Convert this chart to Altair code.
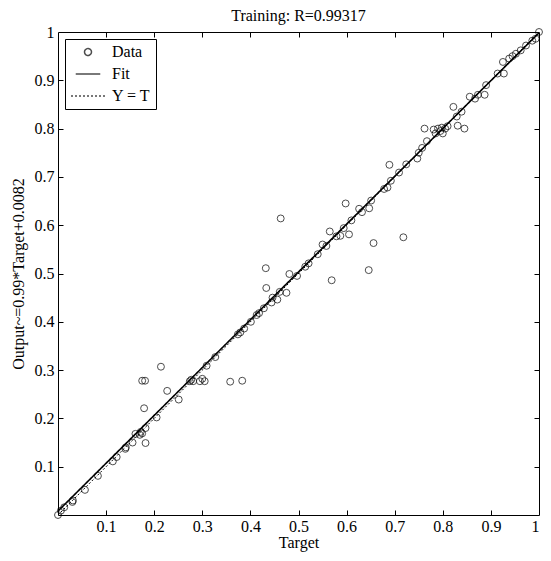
import altair as alt
import pandas as pd

target = [0.000, 0.006, 0.013, 0.030, 0.031, 0.056, 0.083, 0.114, 0.122, 0.140,
          0.141, 0.155, 0.161, 0.170, 0.175, 0.172, 0.182, 0.182, 0.179, 0.175,
          0.181, 0.205, 0.214, 0.227, 0.251, 0.274, 0.281, 0.277, 0.295, 0.300,
          0.305, 0.309, 0.327, 0.358, 0.383, 0.374, 0.379, 0.387, 0.401, 0.413,
          0.418, 0.428, 0.444, 0.432, 0.433, 0.463, 0.446, 0.456, 0.461, 0.475,
          0.481, 0.497, 0.514, 0.521, 0.540, 0.550, 0.558, 0.565, 0.569, 0.579,
          0.587, 0.594, 0.605, 0.598, 0.610, 0.626, 0.632, 0.647, 0.651, 0.646,
          0.656, 0.718, 0.678, 0.685, 0.689, 0.692, 0.709, 0.724, 0.747, 0.750,
          0.757, 0.767, 0.762, 0.785, 0.790, 0.795, 0.800, 0.805, 0.810, 0.781,
          0.798, 0.831, 0.845, 0.822, 0.829, 0.839, 0.856, 0.867, 0.873, 0.887,
          0.890, 0.914, 0.927, 0.925, 0.938, 0.945, 0.952, 0.962, 0.973, 0.986,
          0.993, 1.000]
output = [0.000, 0.009, 0.016, 0.027, 0.030, 0.052, 0.081, 0.111, 0.120, 0.137,
          0.140, 0.150, 0.168, 0.166, 0.169, 0.172, 0.180, 0.149, 0.221, 0.278,
          0.278, 0.202, 0.307, 0.257, 0.239, 0.277, 0.277, 0.280, 0.277, 0.282,
          0.277, 0.309, 0.327, 0.276, 0.278, 0.374, 0.378, 0.386, 0.400, 0.414,
          0.418, 0.428, 0.440, 0.511, 0.470, 0.614, 0.450, 0.446, 0.462, 0.460,
          0.499, 0.495, 0.514, 0.521, 0.540, 0.560, 0.557, 0.587, 0.486, 0.577,
          0.578, 0.594, 0.581, 0.645, 0.610, 0.634, 0.627, 0.635, 0.651, 0.507,
          0.563, 0.575, 0.675, 0.678, 0.725, 0.692, 0.709, 0.726, 0.738, 0.750,
          0.760, 0.774, 0.800, 0.790, 0.800, 0.795, 0.790, 0.800, 0.805, 0.798,
          0.802, 0.806, 0.800, 0.845, 0.825, 0.835, 0.866, 0.862, 0.870, 0.870,
          0.890, 0.914, 0.914, 0.938, 0.945, 0.950, 0.955, 0.962, 0.972, 0.982,
          0.986, 1.000]

fit_x = [0.0, 1.0]
fit_y = [0.0082, 0.9982]
yt_x = [0.0, 1.0]
yt_y = [0.0, 1.0]

series = ["Data", "Fit", "Y = T"]
tick_vals = [0.1, 0.2, 0.3, 0.4, 0.5, 0.6, 0.7, 0.8, 0.9, 1.0]
inner_ticks = [0.1, 0.2, 0.3, 0.4, 0.5, 0.6, 0.7, 0.8, 0.9]

W = 481
H = 483
FONT = "Liberation Serif"

pts = pd.DataFrame({"target": target, "output": output, "series": "Data"})
fit = pd.DataFrame({"target": fit_x, "output": fit_y, "series": "Fit"})
yt = pd.DataFrame({"target": yt_x, "output": yt_y, "series": "Y = T"})

dom = alt.Scale(domain=[0, 1], nice=False, zero=False)

shape_scale = alt.Scale(domain=series, range=["circle", "stroke", "stroke"])
size_scale = alt.Scale(domain=series, range=[48, 1156, 1156])
dash_scale = alt.Scale(domain=series, range=[[1, 0], [1, 0], [2, 2]])
sw_scale = alt.Scale(domain=series, range=[1, 2, 1])
leg = alt.Legend(title=None)

points = alt.Chart(pts).mark_point(filled=False, color="black", strokeWidth=1).encode(
    x=alt.X("target:Q", scale=dom,
            axis=alt.Axis(orient="bottom", values=tick_vals, format="~g", tickSize=0,
                          labelPadding=3, title="Target", titlePadding=0,
                          grid=False, domain=False)),
    y=alt.Y("output:Q", scale=dom,
            axis=alt.Axis(orient="left", values=tick_vals, format="~g", tickSize=0,
                          labelPadding=4, title="Output~=0.99*Target+0.0082",
                          titlePadding=8, grid=False, domain=False)),
    shape=alt.Shape("series:N", scale=shape_scale, legend=leg),
    size=alt.Size("series:N", scale=size_scale, legend=leg),
)

fit_line = alt.Chart(fit).mark_line(color="black", strokeWidth=1.6).encode(
    x=alt.X("target:Q", scale=dom,
            axis=alt.Axis(orient="top", offset=-H, values=inner_ticks, labels=False,
                          tickSize=5, domain=False, grid=False, title=None)),
    y=alt.Y("output:Q", scale=dom,
            axis=alt.Axis(orient="right", offset=-W, values=inner_ticks, labels=False,
                          tickSize=5, domain=False, grid=False, title=None)),
    strokeDash=alt.StrokeDash("series:N", scale=dash_scale, legend=leg),
)

yt_line = alt.Chart(yt).mark_line(color="black", strokeWidth=1).encode(
    x=alt.X("target:Q", scale=dom,
            axis=alt.Axis(orient="bottom", offset=-H, values=inner_ticks, labels=False,
                          tickSize=5, domain=False, grid=False, title=None)),
    y=alt.Y("output:Q", scale=dom,
            axis=alt.Axis(orient="left", offset=-W, values=inner_ticks, labels=False,
                          tickSize=5, domain=False, grid=False, title=None)),
    strokeDash=alt.StrokeDash("series:N", scale=dash_scale, legend=leg),
)

chart = alt.layer(yt_line, fit_line, points).resolve_scale(
    x="independent", y="independent"
).resolve_axis(
    x="independent", y="independent"
).properties(
    width=W, height=H,
    autosize="none",
    padding={"left": 50, "top": 24, "right": 4, "bottom": 38},
    title=alt.TitleParams("Training: R=0.99317", font=FONT, fontSize=16,
                          fontWeight="normal", color="black", offset=0),
).configure_view(
    stroke="black", strokeWidth=1
).configure_axis(
    labelFont=FONT, labelFontSize=16, labelColor="black",
    titleFont=FONT, titleFontSize=16, titleFontWeight="normal", titleColor="black",
    tickColor="black", tickWidth=1
).configure_legend(
    orient="top-left", offset=7, padding=5, strokeColor="black", fillColor="white",
    labelFont=FONT, labelFontSize=16, labelColor="black", rowPadding=6,
    clipHeight=16, labelOffset=6, symbolStrokeColor="black",
    symbolFillColor="transparent", cornerRadius=0
)

chart.save("out.html", embed_options={"renderer": "svg", "actions": False})
